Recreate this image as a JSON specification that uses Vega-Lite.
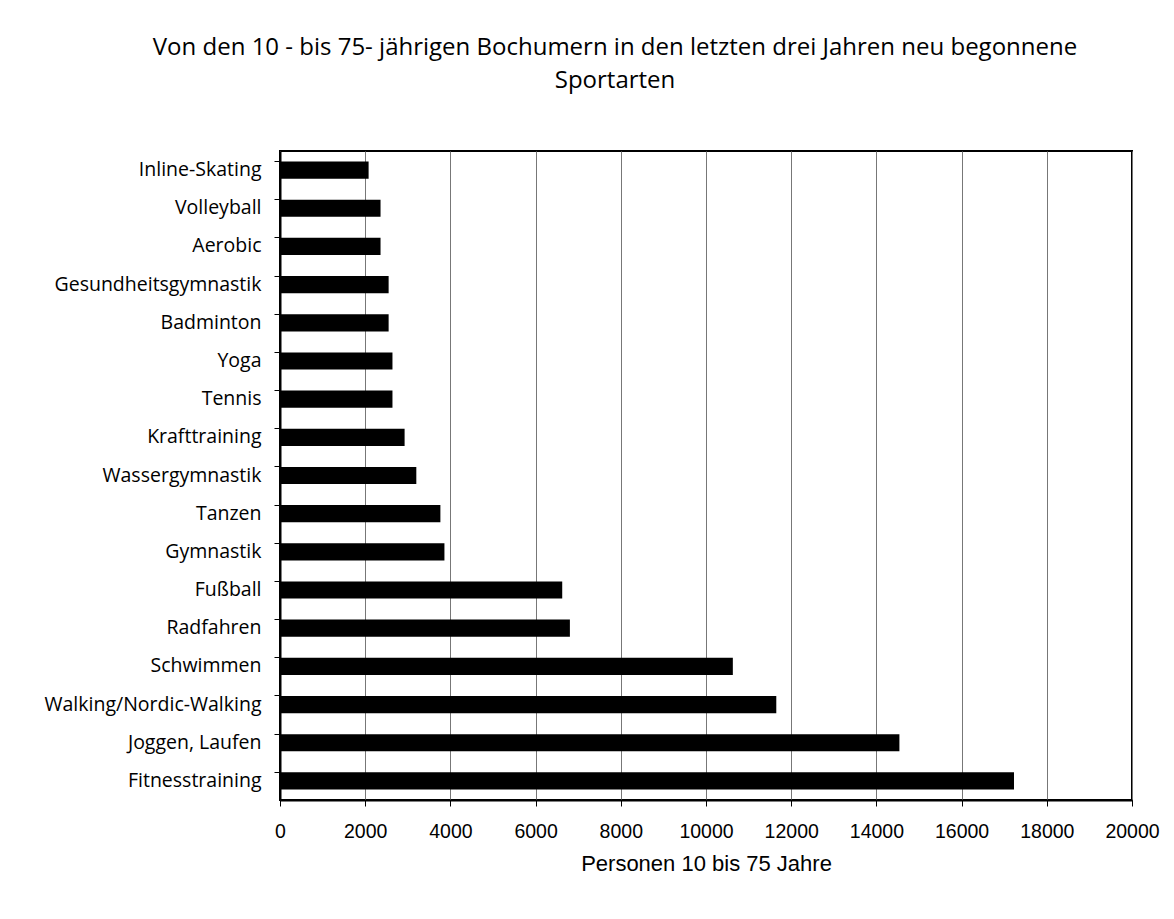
{
  "$schema": "https://vega.github.io/schema/vega-lite/v6.json",
  "width": 852,
  "height": 649,
  "autosize": {"type": "none"},
  "padding": {"left": 280, "top": 151, "right": 42, "bottom": 119},
  "background": "white",
  "title": {
    "text": ["Von den 10 - bis 75- jährigen Bochumern in den letzten drei Jahren neu begonnene", "Sportarten"],
    "anchor": "middle",
    "frame": "group",
    "dx": -91,
    "offset": 58,
    "font": "Open Sans",
    "fontSize": 24,
    "fontWeight": "normal",
    "color": "#000000",
    "lineHeight": 33
  },
  "data": {
    "values": [
      {"sport": "Inline-Skating", "personen": 2080},
      {"sport": "Volleyball", "personen": 2360},
      {"sport": "Aerobic", "personen": 2360},
      {"sport": "Gesundheitsgymnastik", "personen": 2550},
      {"sport": "Badminton", "personen": 2550},
      {"sport": "Yoga", "personen": 2640},
      {"sport": "Tennis", "personen": 2640},
      {"sport": "Krafttraining", "personen": 2925},
      {"sport": "Wassergymnastik", "personen": 3200},
      {"sport": "Tanzen", "personen": 3765},
      {"sport": "Gymnastik", "personen": 3860},
      {"sport": "Fußball", "personen": 6625},
      {"sport": "Radfahren", "personen": 6805},
      {"sport": "Schwimmen", "personen": 10630},
      {"sport": "Walking/Nordic-Walking", "personen": 11650},
      {"sport": "Joggen, Laufen", "personen": 14540},
      {"sport": "Fitnesstraining", "personen": 17230}
    ]
  },
  "mark": {"type": "bar", "color": "#000000"},
  "encoding": {
    "y": {
      "field": "sport",
      "type": "nominal",
      "sort": null,
      "scale": {"paddingInner": 0.55, "paddingOuter": 0.275},
      "axis": {
        "title": null,
        "bandPosition": 0,
        "labelFont": "Open Sans",
        "labelFontSize": 19.5,
        "labelColor": "#000000",
        "labelPadding": 13,
        "labelLimit": 400,
        "tickColor": "#000000",
        "tickSize": 6,
        "domainColor": "#000000",
        "domainWidth": 2,
        "grid": false
      }
    },
    "x": {
      "field": "personen",
      "type": "quantitative",
      "scale": {"domain": [0, 20000], "nice": false},
      "axis": {
        "values": [0, 2000, 4000, 6000, 8000, 10000, 12000, 14000, 16000, 18000, 20000],
        "format": "d",
        "title": "Personen 10 bis 75 Jahre",
        "titleFont": "Liberation Sans",
        "titleFontSize": 22,
        "titleFontWeight": "normal",
        "titleColor": "#000000",
        "titlePadding": 13,
        "labelFont": "Liberation Sans",
        "labelFontSize": 19.5,
        "labelColor": "#000000",
        "labelPadding": 16,
        "labelFlush": false,
        "labelOverlap": false,
        "tickColor": "#000000",
        "tickSize": 6,
        "domainColor": "#000000",
        "domainWidth": 2,
        "grid": true,
        "gridColor": "#777777",
        "gridWidth": 1,
        "gridOpacity": 1
      }
    }
  },
  "config": {
    "view": {"stroke": "#000000", "strokeWidth": 2}
  }
}
